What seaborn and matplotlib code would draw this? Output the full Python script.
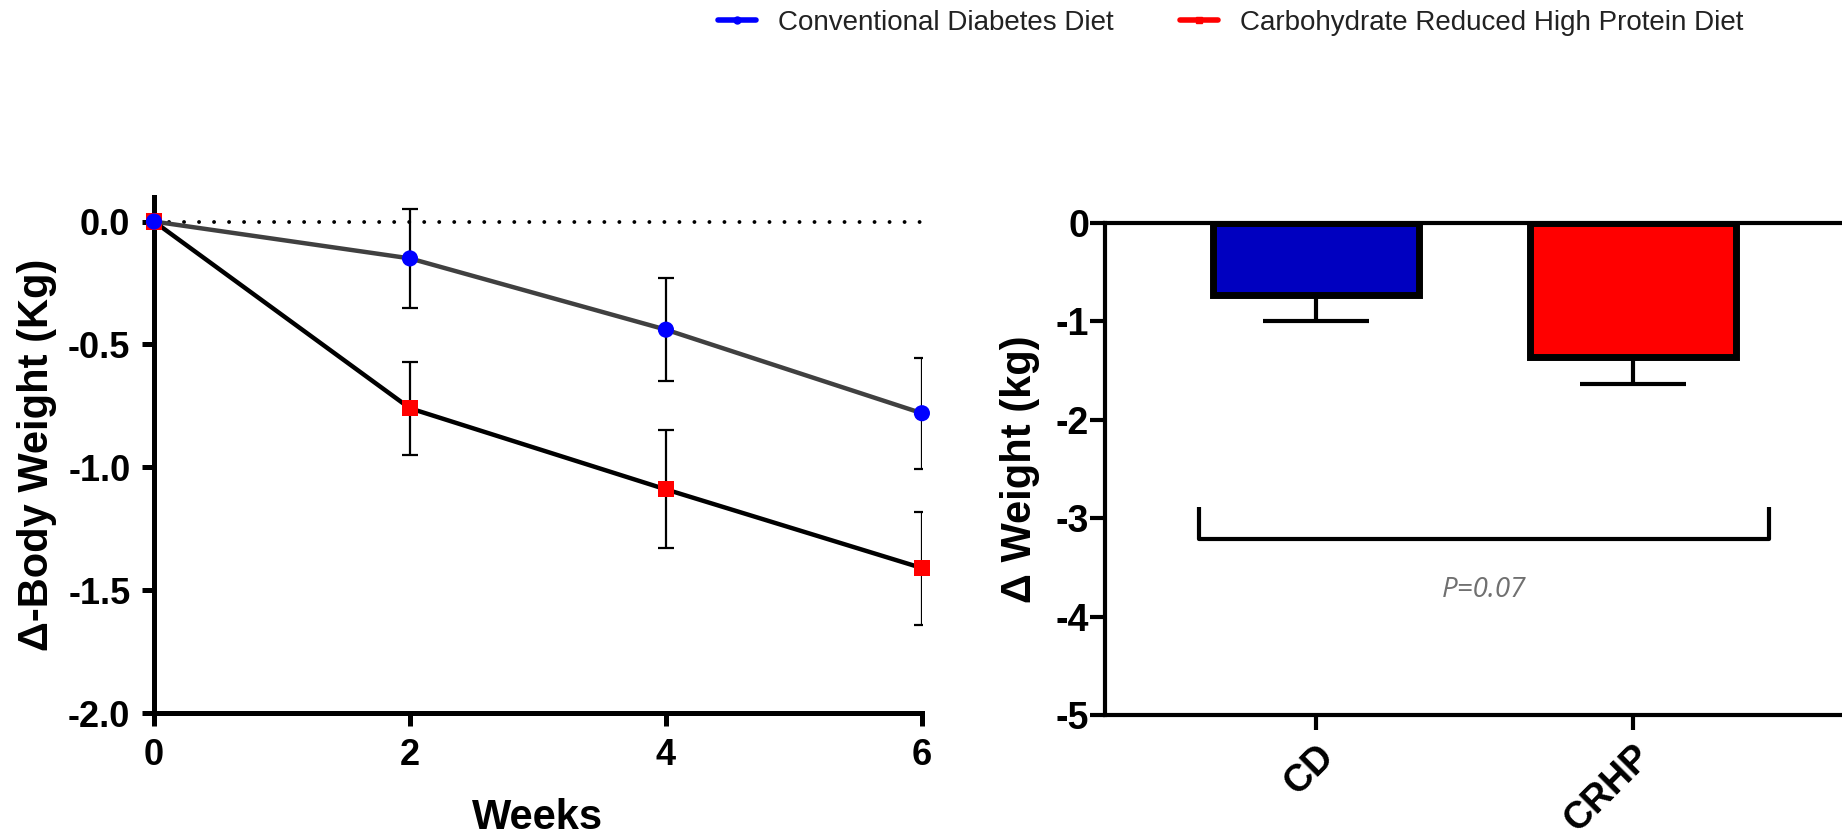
import matplotlib
matplotlib.use('Agg')
import matplotlib.pyplot as plt
from matplotlib.lines import Line2D
import seaborn as sns
import pandas as pd

# Werte
weeks = [0, 2, 4, 6]
cd_mean = [0.0, -0.15, -0.44, -0.78]
cd_sem = [0.0, 0.20, 0.21, 0.225]
crhp_mean = [0.0, -0.76, -1.09, -1.41]
crhp_sem = [0.0, 0.19, 0.24, 0.23]

groups = ['CD', 'CRHP']
total_change = [-0.73, -1.36]
total_sem = [0.27, 0.28]

legend_labels = ['Conventional Diabetes Diet', 'Carbohydrate Reduced High Protein Diet']
p_text = 'P=0.07'

sns.set_style('ticks')
plt.rcParams['font.family'] = ['Liberation Sans', 'DejaVu Sans']
plt.rcParams['axes.unicode_minus'] = False
for key in ['axes.edgecolor', 'text.color', 'axes.labelcolor', 'xtick.color', 'ytick.color']:
    plt.rcParams[key] = 'black'

long_df = pd.DataFrame({
    'week': weeks * 2,
    'change': cd_mean + crhp_mean,
    'diet': ['CD'] * 4 + ['CRHP'] * 4,
})

fig = plt.figure(figsize=(18.42, 8.36), dpi=100)
ax1 = fig.add_axes([0.0836, 0.1471, 0.4169, 0.6173])
ax2 = fig.add_axes([0.5999, 0.1447, 0.4001, 0.5885])

# --- Linke Grafik: Verlauf ueber die Wochen ---
ax1.plot([weeks[0], weeks[-1]], [0, 0], color='black', lw=2.8,
         linestyle=(0, (0.01, 3.85)), dash_capstyle='round', zorder=1)
sns.lineplot(data=long_df, x='week', y='change', hue='diet',
             palette={'CD': '#404040', 'CRHP': 'black'}, linewidth=3.2,
             legend=False, ax=ax1, zorder=2)
ax1.errorbar(weeks[1:], cd_mean[1:], yerr=cd_sem[1:], fmt='none', ecolor='black',
             elinewidth=1.6, capsize=5.8, capthick=1.6, zorder=3)
ax1.errorbar(weeks[1:], crhp_mean[1:], yerr=crhp_sem[1:], fmt='none', ecolor='black',
             elinewidth=1.6, capsize=5.8, capthick=1.6, zorder=3)
sns.scatterplot(data=long_df.iloc[::-1], x='week', y='change', hue='diet', style='diet',
                palette={'CD': '#0000FF', 'CRHP': '#FF0000'},
                markers={'CD': 'o', 'CRHP': 's'}, s=135, linewidth=0,
                legend=False, ax=ax1, zorder=5, clip_on=False)

ax1.set_xlim(0, 6)
ax1.set_ylim(-2.0, 0.1)
ax1.set_xticks(weeks)
ax1.set_yticks([0.0, -0.5, -1.0, -1.5, -2.0])
ax1.set_yticklabels(['0.0', '-0.5', '-1.0', '-1.5', '-2.0'])
sns.despine(ax=ax1)
for s in ['left', 'bottom']:
    ax1.spines[s].set_linewidth(3.6)
ax1.tick_params(axis='both', width=3.6, length=9, labelsize=26, colors='black')
ax1.tick_params(axis='y', pad=8)
ax1.tick_params(axis='x', pad=9)
for lab in ax1.get_xticklabels() + ax1.get_yticklabels():
    lab.set_fontweight('bold')
ax1.set_xlabel('Weeks', fontsize=30, fontweight='bold')
ax1.set_ylabel('\u0394-Body Weight (Kg)', fontsize=30, fontweight='bold')
ax1.xaxis.set_label_coords(0.5, -0.165)
ax1.yaxis.set_label_coords(-0.126, 0.5)

# --- Rechte Grafik: Gesamtaenderung ---
ax2.errorbar([0, 1], total_change, yerr=[total_sem, [0, 0]], fmt='none', ecolor='black',
             elinewidth=3, capsize=38, capthick=3, zorder=1)
sns.barplot(x=groups, y=total_change, hue=groups,
            palette={'CD': '#0000C0', 'CRHP': '#FF0000'}, saturation=1, width=0.65,
            edgecolor='black', linewidth=5, legend=False, ax=ax2, zorder=2)

# Signifikanz-Klammer
br_x = [-0.37, 1.43]
br_y = [-2.89, -3.21]
ax2.plot([br_x[0], br_x[0], br_x[1], br_x[1]], [br_y[0], br_y[1], br_y[1], br_y[0]],
         color='black', lw=3, solid_capstyle='butt', zorder=3)
ax2.text(sum(br_x) / 2, -3.73, p_text, ha='center', va='center', fontsize=20,
         style='italic', color='#707070', family=['Open Sans', 'DejaVu Sans'])

ax2.set_xlim(-0.666, 1.659)
ax2.set_ylim(-5, 0)
ax2.set_yticks([0, -1, -2, -3, -4, -5])
ax2.set_yticklabels(['0', '-1', '-2', '-3', '-4', '-5'])
for s in ['left', 'top', 'bottom']:
    ax2.spines[s].set_visible(True)
    ax2.spines[s].set_linewidth(3)
ax2.spines['right'].set_visible(False)
ax2.tick_params(axis='both', width=3, length=10.5, labelsize=27, colors='black')
ax2.tick_params(axis='y', pad=1)
ax2.tick_params(axis='x', pad=6)
for lab in ax2.get_yticklabels():
    lab.set_fontweight('bold')
for lab in ax2.get_xticklabels():
    lab.set_fontweight('bold')
    lab.set_rotation(45)
    lab.set_ha('right')
    lab.set_rotation_mode('anchor')
ax2.set_xlabel('')
ax2.set_ylabel('\u0394 Weight (kg)', fontsize=30, fontweight='bold')
ax2.yaxis.set_label_coords(-0.088, 0.5)

# --- Legende oben ---
handles = [
    Line2D([], [], color='#0000FF', lw=4, marker='o', markersize=5),
    Line2D([], [], color='#FF0000', lw=4, marker='s', markersize=5),
]
fig.legend(handles, legend_labels, loc='center left', bbox_to_anchor=(718 / 1842, 1 - 23 / 836),
           ncol=2, frameon=False, fontsize=20, handlelength=1.35, handletextpad=0.8,
           columnspacing=2.4, borderpad=0, borderaxespad=0, labelcolor='#222222')

fig.savefig('out.png', dpi=100)
